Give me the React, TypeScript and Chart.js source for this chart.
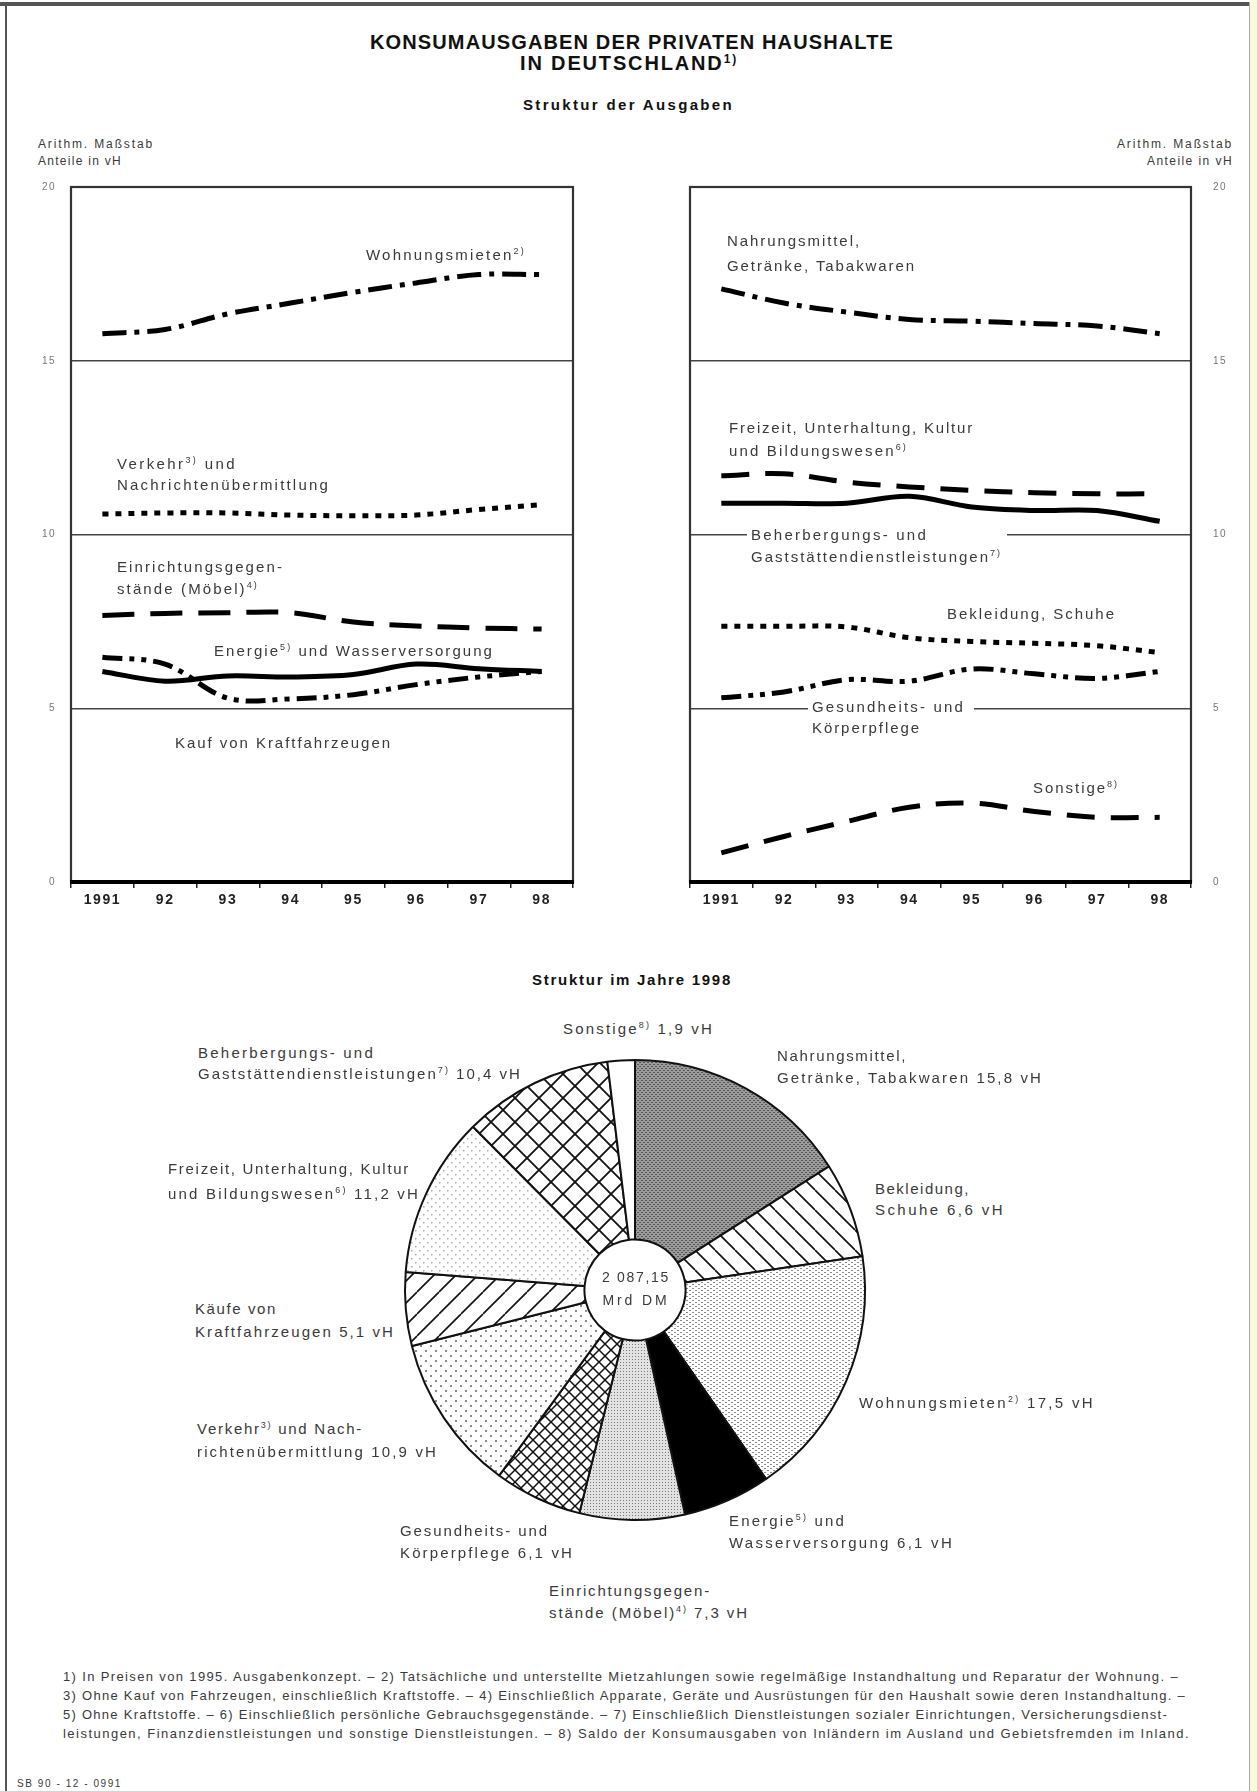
import React, { useEffect, useLayoutEffect, useRef } from 'react';
import { Chart, registerables } from 'chart.js';

Chart.register(...registerables);

const FONT = "'Liberation Sans', Arial, Helvetica, sans-serif";
Chart.defaults.font.family = FONT;

// ---------- data ----------
const YEARS = ['1991', '92', '93', '94', '95', '96', '97', '98'];
const Y_MIN = 0;
const Y_MAX = 20;
const Y_STEP = 5;

// left panel – Anteile in vH
const WOHNUNGSMIETEN = [15.78, 15.9, 16.35, 16.66, 16.97, 17.24, 17.48, 17.48];
const VERKEHR = [10.59, 10.62, 10.62, 10.56, 10.54, 10.56, 10.72, 10.86];
const EINRICHTUNG = [7.67, 7.73, 7.75, 7.75, 7.48, 7.37, 7.31, 7.28];
const ENERGIE = [6.06, 5.78, 5.93, 5.9, 5.97, 6.27, 6.14, 6.06];
const KRAFTFAHRZEUGE = [6.47, 6.27, 5.29, 5.27, 5.39, 5.68, 5.9, 6.06];

// right panel – Anteile in vH
const NAHRUNGSMITTEL = [17.07, 16.66, 16.4, 16.19, 16.14, 16.07, 16.0, 15.78];
const FREIZEIT = [11.69, 11.75, 11.51, 11.37, 11.27, 11.2, 11.17, 11.17];
const BEHERBERGUNG = [10.9, 10.9, 10.9, 11.1, 10.79, 10.69, 10.69, 10.38];
const BEKLEIDUNG = [7.36, 7.36, 7.34, 7.03, 6.92, 6.87, 6.8, 6.6];
const GESUNDHEIT = [5.3, 5.47, 5.82, 5.78, 6.13, 5.99, 5.86, 6.06];
const SONSTIGE = [0.84, 1.31, 1.74, 2.15, 2.27, 2.03, 1.86, 1.86];

// pie – Struktur im Jahre 1998 (vH)
const PIE_LABELS = [
  'Nahrungsmittel, Getränke, Tabakwaren',
  'Bekleidung, Schuhe',
  'Wohnungsmieten',
  'Energie und Wasserversorgung',
  'Einrichtungsgegenstände (Möbel)',
  'Gesundheits- und Körperpflege',
  'Verkehr und Nachrichtenübermittlung',
  'Käufe von Kraftfahrzeugen',
  'Freizeit, Unterhaltung, Kultur und Bildungswesen',
  'Beherbergungs- und Gaststättendienstleistungen',
  'Sonstige',
];
const PIE_VALUES = [15.8, 6.6, 17.5, 6.1, 7.3, 6.1, 10.9, 5.1, 11.2, 10.4, 1.9];

// ---------- styles ----------
const LINE_W = 5;
const DASH_DOT = [24, 8, 5, 8];
const DASH_DOT_DOT = [20, 7, 5, 7, 5, 7];
const DOTTED = [6, 7];
const DASHED = [32, 16];
const DASHED_B = [28, 16];

function ds(data: number[], dash: number[]) {
  return {
    data,
    borderColor: '#000',
    borderWidth: LINE_W,
    borderDash: dash,
    borderCapStyle: 'butt',
    pointRadius: 0,
    tension: 0.35,
    fill: false,
  } as any;
}

const boxPlugin = {
  id: 'box',
  beforeDraw(chart: any) {
    chart.ctx.letterSpacing = '1.5px';
  },
  beforeDatasetsDraw(chart: any) {
    const { ctx, chartArea: a } = chart;
    ctx.save();
    ctx.strokeStyle = '#333';
    ctx.lineWidth = 2.2;
    ctx.strokeRect(a.left, a.top, a.right - a.left, a.bottom - a.top);
    ctx.strokeStyle = '#000';
    ctx.lineWidth = 4;
    ctx.beginPath();
    ctx.moveTo(a.left - 1, a.bottom);
    ctx.lineTo(a.right + 1, a.bottom);
    ctx.stroke();
    ctx.restore();
  },
};

function lineConfig(side: 'left' | 'right', datasets: any[]): any {
  return {
    type: 'line',
    data: { labels: YEARS, datasets },
    options: {
      animation: false,
      responsive: false,
      events: [],
      layout: {
        padding:
          side === 'left'
            ? { left: 0, top: 7, right: 27, bottom: 0 }
            : { left: 30, top: 7, right: 14, bottom: 0 },
      },
      plugins: { legend: { display: false }, tooltip: { enabled: false } },
      scales: {
        x: {
          type: 'category',
          offset: true,
          grid: { offset: true, drawOnChartArea: false, drawTicks: true, tickLength: 6, color: '#222', lineWidth: 1.5 },
          border: { display: false },
          ticks: { font: { size: 14, weight: 'bold' }, color: '#222', padding: 4, maxRotation: 0, autoSkip: false },
          afterFit: (s: any) => { s.height = 38; },
        },
        y: {
          position: side,
          min: Y_MIN,
          max: Y_MAX,
          ticks: { stepSize: Y_STEP, font: { size: 10 }, color: '#777', padding: 0 },
          grid: {
            color: '#444',
            lineWidth: 1.4,
            drawTicks: true,
            tickLength: side === 'left' ? 15 : 22,
            tickColor: 'rgba(0,0,0,0)',
          },
          border: { display: false },
          afterFit: (s: any) => { s.width = side === 'left' ? 41 : 45; },
        },
      },
    },
    plugins: [boxPlugin],
  };
}

// ---------- pie patterns ----------
function tile(ctx: CanvasRenderingContext2D, w: number, h: number, draw: (g: CanvasRenderingContext2D) => void) {
  const c = document.createElement('canvas');
  c.width = w;
  c.height = h;
  const g = c.getContext('2d')!;
  draw(g);
  return ctx.createPattern(c, 'repeat')!;
}
function hatch(ctx: CanvasRenderingContext2D, s: number, dirs: string[], lw: number) {
  return tile(ctx, s, s, (g) => {
    g.fillStyle = '#fff';
    g.fillRect(0, 0, s, s);
    g.strokeStyle = '#111';
    g.lineWidth = lw;
    for (const d of dirs) {
      g.beginPath();
      for (const o of [-s, 0, s]) {
        if (d === '/') {
          g.moveTo(o, s);
          g.lineTo(o + s, 0);
        } else {
          g.moveTo(o, 0);
          g.lineTo(o + s, s);
        }
      }
      g.stroke();
    }
  });
}
function dots(ctx: CanvasRenderingContext2D, w: number, h: number, bg: string, fg: string, pts: number[][]) {
  return tile(ctx, w, h, (g) => {
    g.fillStyle = bg;
    g.fillRect(0, 0, w, h);
    g.fillStyle = fg;
    for (const p of pts) g.fillRect(p[0], p[1], p[2], p[3]);
  });
}

// ---------- text ----------
function S({ c }: { c: string }) {
  return <span style={{ fontSize: '0.6em', verticalAlign: '0.6em', lineHeight: 0 }}>{c}</span>;
}

type TP = {
  x: number; y: number; w?: number; size?: number; bold?: boolean;
  align?: 'left' | 'center' | 'right'; color?: string; children: any;
};
function T({ x, y, w, size = 15, bold = false, align = 'left', color = '#3a3a3a', children }: TP) {
  const ref = useRef<HTMLDivElement>(null);
  useLayoutEffect(() => {
    const el = ref.current;
    if (!el || !w) return;
    el.style.letterSpacing = '0px';
    const nat = el.getBoundingClientRect().width;
    const n = (el.textContent || '').length;
    el.style.letterSpacing = (w - nat) / n + 'px';
  }, [w]);
  const tx = align === 'left' ? '0' : align === 'center' ? '-50%' : '-100%';
  return (
    <div
      ref={ref}
      style={{
        position: 'absolute', left: x, top: y, transform: `translate(${tx},-50%)`,
        whiteSpace: 'nowrap', fontSize: size, fontWeight: bold ? 700 : 400, color, lineHeight: 1,
      }}
    >
      {children}
    </div>
  );
}

function Mask({ x, y, w, h }: { x: number; y: number; w: number; h: number }) {
  return <div style={{ position: 'absolute', left: x, top: y, width: w, height: h, background: '#fff' }} />;
}

export default function App() {
  const leftRef = useRef<HTMLCanvasElement>(null);
  const rightRef = useRef<HTMLCanvasElement>(null);
  const pieRef = useRef<HTMLCanvasElement>(null);

  useEffect(() => {
    const charts: Chart[] = [];
    charts.push(
      new Chart(
        leftRef.current!,
        lineConfig('left', [
          ds(WOHNUNGSMIETEN, DASH_DOT),
          ds(VERKEHR, DOTTED),
          ds(EINRICHTUNG, DASHED),
          ds(ENERGIE, []),
          ds(KRAFTFAHRZEUGE, DASH_DOT_DOT),
        ])
      )
    );
    charts.push(
      new Chart(
        rightRef.current!,
        lineConfig('right', [
          ds(NAHRUNGSMITTEL, DASH_DOT),
          ds(FREIZEIT, DASHED_B),
          ds(BEHERBERGUNG, []),
          ds(BEKLEIDUNG, DOTTED),
          ds(GESUNDHEIT, DASH_DOT_DOT),
          ds(SONSTIGE, DASHED_B),
        ])
      )
    );
    const pc = pieRef.current!;
    const ctx = pc.getContext('2d')!;
    const fills = [
      dots(ctx, 4, 4, '#9c9c9c', '#555', [[0, 0, 2, 1], [2, 2, 2, 1]]),
      hatch(ctx, 20, ['\\'], 1.6),
      dots(ctx, 6, 4, '#fff', '#8a8a8a', [[0, 0, 2, 1], [3, 2, 2, 1]]),
      '#000',
      dots(ctx, 3, 3, '#e2e2e2', '#777', [[0, 0, 1, 1]]),
      hatch(ctx, 12, ['/', '\\'], 1.5),
      dots(ctx, 10, 10, '#fff', '#8a8a8a', [[0, 0, 2, 2], [5, 5, 2, 2]]),
      hatch(ctx, 22, ['/'], 1.6),
      dots(ctx, 8, 8, '#fff', '#aaa', [[0, 0, 1.5, 1.5], [4, 4, 1.5, 1.5]]),
      hatch(ctx, 24, ['/', '\\'], 1.8),
      '#fff',
    ];
    charts.push(
      new Chart(pc, {
        type: 'doughnut',
        data: {
          labels: PIE_LABELS,
          datasets: [{ data: PIE_VALUES, backgroundColor: fills as any, borderColor: '#111', borderWidth: 2, hoverOffset: 0 }],
        },
        options: {
          animation: false,
          responsive: false,
          events: [],
          radius: 230,
          cutout: '22%',
          layout: { padding: 0 },
          plugins: { legend: { display: false }, tooltip: { enabled: false } },
        } as any,
      })
    );
    return () => charts.forEach((c) => c.destroy());
  }, []);

  return (
    <div
      style={{
        position: 'absolute', left: 0, top: 0, width: 1257, height: 1791, background: '#fff',
        overflow: 'hidden', fontFamily: FONT,
      }}
    >
      {/* page frame */}
      <div style={{ position: 'absolute', left: 0, top: 2, width: 1251, height: 4, background: '#555' }} />
      <div style={{ position: 'absolute', left: 5, top: 2, width: 2, height: 1789, background: '#555' }} />
      <div style={{ position: 'absolute', left: 1250, top: 0, width: 7, height: 1791, background: '#fbf8e2' }} />
      <div style={{ position: 'absolute', left: 1249, top: 2, width: 1, height: 1789, background: '#aaa' }} />

      <canvas ref={leftRef} width={570} height={740} style={{ position: 'absolute', left: 30, top: 180, width: 570, height: 740 }} />
      <canvas ref={rightRef} width={590} height={740} style={{ position: 'absolute', left: 660, top: 180, width: 590, height: 740 }} />
      <canvas ref={pieRef} width={480} height={480} style={{ position: 'absolute', left: 395, top: 1050, width: 480, height: 480 }} />

      {/* titles */}
      <T x={632} y={42} w={524} size={20} bold align="center" color="#111">KONSUMAUSGABEN DER PRIVATEN HAUSHALTE</T>
      <T x={520} y={63} w={218} size={20} bold color="#111">IN DEUTSCHLAND<S c="1)" /></T>
      <T x={523} y={104} w={211} size={15} bold color="#111">Struktur der Ausgaben</T>

      <T x={38} y={144} w={116} size={12}>Arithm. Maßstab</T>
      <T x={38} y={161} w={84} size={12}>Anteile in vH</T>
      <T x={1233} y={144} w={116} size={12} align="right">Arithm. Maßstab</T>
      <T x={1233} y={161} w={86} size={12} align="right">Anteile in vH</T>

      {/* left panel labels */}
      <T x={366} y={254} w={160}>Wohnungsmieten<S c="2)" /></T>
      <T x={117} y={463} w={120}>Verkehr<S c="3)" /> und</T>
      <T x={117} y={484} w={213}>Nachrichtenübermittlung</T>
      <T x={117} y={566} w={167}>Einrichtungsgegen-</T>
      <T x={117} y={588} w={142}>stände (Möbel)<S c="4)" /></T>
      <T x={214} y={650} w={280}>Energie<S c="5)" /> und Wasserversorgung</T>
      <T x={175} y={742} w={217}>Kauf von Kraftfahrzeugen</T>

      {/* right panel labels */}
      <T x={727} y={240} w={134}>Nahrungsmittel,</T>
      <T x={727} y={265} w={189}>Getränke, Tabakwaren</T>
      <T x={729} y={427} w={245}>Freizeit, Unterhaltung, Kultur</T>
      <T x={729} y={450} w={179}>und Bildungswesen<S c="6)" /></T>
      <Mask x={747} y={528} w={260} h={13} />
      <T x={751} y={534} w={177}>Beherbergungs- und</T>
      <T x={751} y={556} w={251}>Gaststättendienstleistungen<S c="7)" /></T>
      <T x={947} y={613} w={169}>Bekleidung, Schuhe</T>
      <Mask x={808} y={702} w={166} h={13} />
      <T x={812} y={706} w={153}>Gesundheits- und</T>
      <T x={812} y={727} w={109}>Körperpflege</T>
      <T x={1033} y={787} w={86}>Sonstige<S c="8)" /></T>

      {/* pie */}
      <T x={532} y={979} w={200} size={15} bold color="#111">Struktur im Jahre 1998</T>
      <T x={563} y={1028} w={151}>Sonstige<S c="8)" /> 1,9 vH</T>
      <T x={777} y={1055} w={130}>Nahrungsmittel,</T>
      <T x={777} y={1077} w={266}>Getränke, Tabakwaren 15,8 vH</T>
      <T x={198} y={1052} w={177}>Beherbergungs- und</T>
      <T x={198} y={1073} w={324}>Gaststättendienstleistungen<S c="7)" /> 10,4 vH</T>
      <T x={168} y={1168} w={242}>Freizeit, Unterhaltung, Kultur</T>
      <T x={168} y={1193} w={252}>und Bildungswesen<S c="6)" /> 11,2 vH</T>
      <T x={875} y={1188} w={95}>Bekleidung,</T>
      <T x={875} y={1209} w={130}>Schuhe 6,6 vH</T>
      <T x={195} y={1308} w={82}>Käufe von</T>
      <T x={195} y={1331} w={200}>Kraftfahrzeugen 5,1 vH</T>
      <T x={859} y={1402} w={236}>Wohnungsmieten<S c="2)" /> 17,5 vH</T>
      <T x={197} y={1428} w={166}>Verkehr<S c="3)" /> und Nach-</T>
      <T x={197} y={1451} w={241}>richtenübermittlung 10,9 vH</T>
      <T x={400} y={1530} w={149}>Gesundheits- und</T>
      <T x={400} y={1552} w={174}>Körperpflege 6,1 vH</T>
      <T x={729} y={1520} w={117}>Energie<S c="5)" /> und</T>
      <T x={729} y={1542} w={225}>Wasserversorgung 6,1 vH</T>
      <T x={549} y={1590} w={162}>Einrichtungsgegen-</T>
      <T x={549} y={1612} w={200}>stände (Möbel)<S c="4)" /> 7,3 vH</T>
      <T x={636} y={1277} w={68} size={14} align="center">2 087,15</T>
      <T x={636} y={1300} w={67} size={14} align="center">Mrd DM</T>

      {/* footnotes */}
      <T x={63} y={1676} w={1116} size={13}>1) In Preisen von 1995. Ausgabenkonzept. – 2) Tatsächliche und unterstellte Mietzahlungen sowie regelmäßige Instandhaltung und Reparatur der Wohnung. –</T>
      <T x={63} y={1695} w={1123} size={13}>3) Ohne Kauf von Fahrzeugen, einschließlich Kraftstoffe. – 4) Einschließlich Apparate, Geräte und Ausrüstungen für den Haushalt sowie deren Instandhaltung. –</T>
      <T x={63} y={1714} w={1105} size={13}>5) Ohne Kraftstoffe. – 6) Einschließlich persönliche Gebrauchsgegenstände. – 7) Einschließlich Dienstleistungen sozialer Einrichtungen, Versicherungsdienst-</T>
      <T x={63} y={1733} w={1127} size={13}>leistungen, Finanzdienstleistungen und sonstige Dienstleistungen. – 8) Saldo der Konsumausgaben von Inländern im Ausland und Gebietsfremden im Inland.</T>
      <T x={17} y={1784} w={105} size={10}>SB 90 - 12 - 0991</T>
    </div>
  );
}
